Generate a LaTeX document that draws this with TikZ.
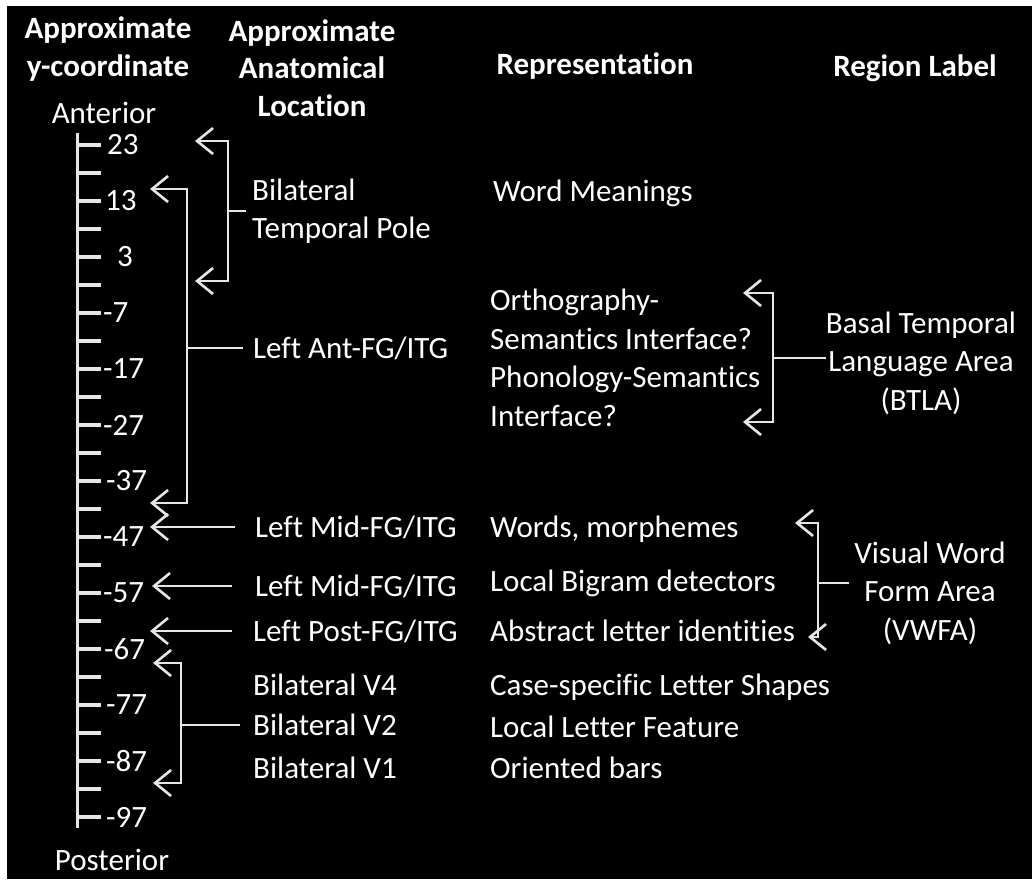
\documentclass[tikz,border=0pt]{standalone}
\usepackage{fontspec}
\setmainfont{Carlito}[Ligatures=NoCommon]
\usetikzlibrary{arrows.meta}
\definecolor{chalk}{RGB}{230,230,230}
\tikzset{
  txt/.style={text=white, inner sep=0pt, font=\fontsize{31}{38.5}\selectfont},
  head/.style={txt, font=\fontsize{31}{37.5}\selectfont\bfseries, align=center},
  loc/.style={txt, anchor=west, align=left},
  lbl/.style={txt, align=center},
  bar/.style={chalk, line width=2.6pt},
  tip/.style={bar, -{Straight Barb[length=16pt,width=26pt]}},
  tips/.style={bar, {Straight Barb[length=16pt,width=26pt]}-{Straight Barb[length=16pt,width=26pt]}},
}
\begin{document}
\begin{tikzpicture}[x=1pt, y=-1pt]
\useasboundingbox (0,0) rectangle (1032,879);
\fill[white] (0,0) rectangle (1032,879);
\fill[black] (7,6) rectangle (1032,879);

% column heads
\node[head] (hy) at (108,49) {Approximate\\y-coordinate};
\node[head] (hloc) at (312,68) {Approximate\\Anatomical\\Location};
\node[head] (hrep) at (595,66) {Representation};
\node[head] (hreg) at (915,68) {Region Label};

% y scale
\node[txt] (ant) at (104,113) {Anterior};
\node[txt] (post) at (112,860) {Posterior};
\draw[chalk, line width=3pt] (77,133) -- (77,828);
\foreach \k in {0,...,24}
  \draw[chalk, line width=3.5pt] (77,145+28*\k) -- (101,145+28*\k);
\foreach \k/\v/\xx in {0/23/107, 2/13/105, 4/3/117, 6/-7/103, 8/-17/103,
    10/-27/103, 12/-37/106, 14/-47/103, 16/-57/103, 18/-67/104,
    20/-77/106, 22/-87/106, 24/-97/106}
  \node[txt, anchor=west] (y\k) at (\xx,145+28*\k) {\v};

% anatomical locations
\node[loc] (tp) at (252,211) {Bilateral\\Temporal Pole};
\draw[tips] (195,141) -- (228,141) -- (228,281) -- (195,281);
\draw[bar] (228,211) -- ([xshift=-6pt]tp.west);

\node[loc] (antfg) at (253,348) {Left Ant-FG/ITG};
\draw[tips] (150,189) -- (187,189) -- (187,503) -- (150,503);
\draw[bar] (187,348) -- ([xshift=-10pt]antfg.west);

\node[loc] (midfga) at (255,527) {Left Mid-FG/ITG};
\draw[tip, shorten <=20pt] (midfga.west) -- (150,527);
\node[loc] (midfgb) at (255,586) {Left Mid-FG/ITG};
\draw[tip, shorten <=23pt] (midfgb.west) -- (152,586);
\node[loc] (postfg) at (253,631) {Left Post-FG/ITG};
\draw[tip, shorten <=21pt] (postfg.west) -- (150,631);

\node[loc] (vfour) at (253,685) {Bilateral V4};
\node[loc] (vtwo) at (253,725) {Bilateral V2};
\node[loc] (vone) at (253,768) {Bilateral V1};
\draw[tips] (153,663) -- (181,663) -- (181,783) -- (153,783);
\draw[bar] (181,725) -- ([xshift=-13pt]vtwo.west);

% representations
\node[loc] (wmean) at (493,193) {Word Meanings};
\node[loc] (orth) at (490,358) {Orthography-\\Semantics Interface?\\Phonology-Semantics\\Interface?};
\node[loc] (words) at (490,529) {Words, morphemes};
\node[loc] (bigram) at (490,583) {Local Bigram detectors};
\node[loc] (abstr) at (490,631) {Abstract letter identities};
\node[loc] (casesp) at (490,687) {Case-specific Letter Shapes};
\node[loc] (feat) at (490,727) {Local Letter Feature};
\node[loc] (bars) at (490,768) {Oriented bars};

% region labels
\node[lbl] (btla) at (921,363) {Basal Temporal\\Language Area\\(BTLA)};
\draw[tips] (743,293) -- (773,293) -- (773,422) -- (743,422);
\draw[bar] (773,358) -- (btla.west |- 0,358);

\node[lbl] (vwfa) at (930,593) {Visual Word\\Form Area\\(VWFA)};
\draw[tips] (795,523) -- (818,523) -- (818,637) -- (808,637);
\draw[bar] (818,583) -- ([xshift=-5pt]vwfa.west |- 0,583);
\end{tikzpicture}
\end{document}
